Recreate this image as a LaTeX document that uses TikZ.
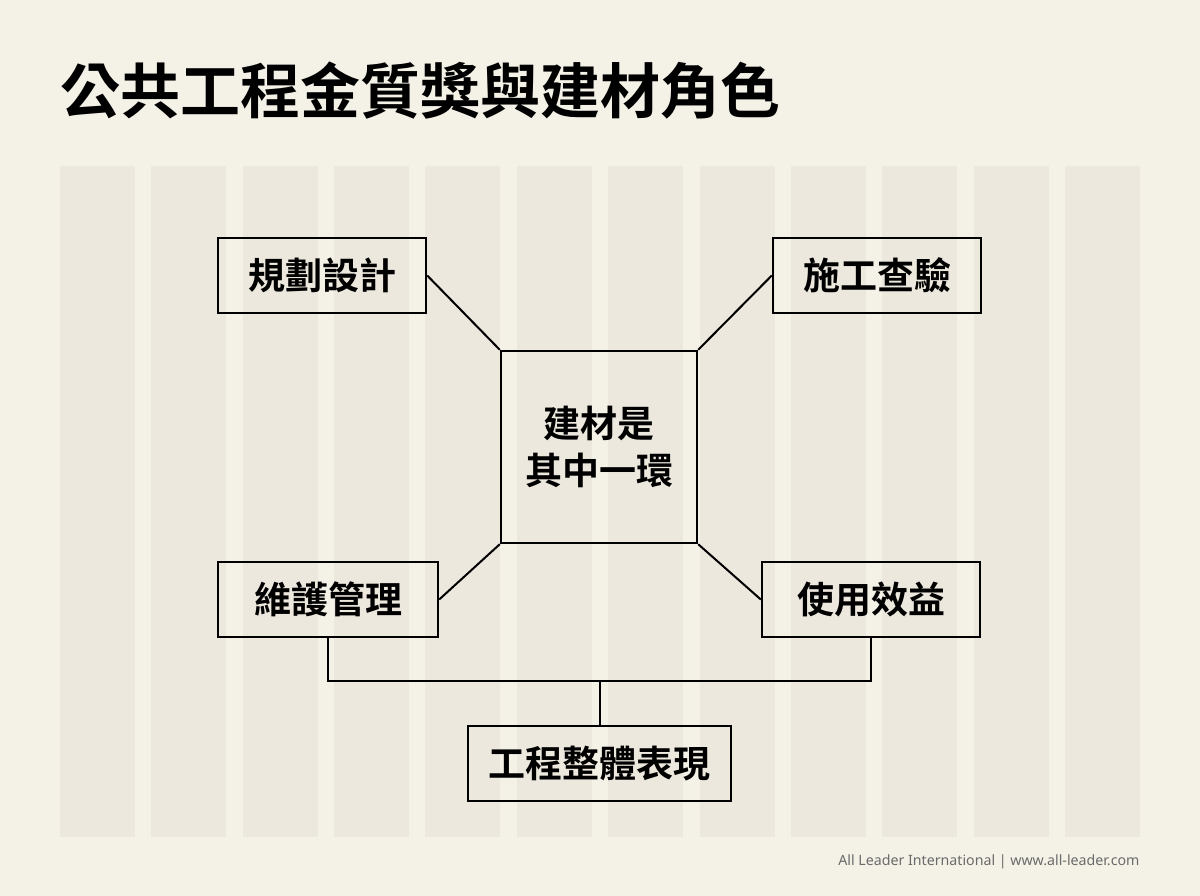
\documentclass[tikz,border=0pt]{standalone}
\usepackage{fontspec}
\newfontfamily\cjkb{Noto Sans CJK TC Bold}
\newfontfamily\footfont{Noto Sans}
\definecolor{bgc}{HTML}{F4F1E7}
\definecolor{stripec}{HTML}{EDE8DE}
\definecolor{footc}{HTML}{6A6A6A}
\begin{document}
\begin{tikzpicture}[x=1pt,y=-1pt,
  box/.style={draw=black,line width=2.4pt,inner sep=0pt,font=\cjkb\fontsize{37}{44}\selectfont},
  link/.style={draw=black,line width=2pt}]
\fill[bgc] (0,0) rectangle (1200,896);
\useasboundingbox (0,0) rectangle (1200,896);
\foreach \i in {0,...,11}{
  \fill[stripec] ({60+91.36*\i},166) rectangle ({135+91.36*\i},837);
}
\node[anchor=west,font=\cjkb\fontsize{60}{68}\selectfont] (title) at (57,91) {公共工程金質獎與建材角色};
\node[box,minimum width=208pt,minimum height=75pt] (plan) at (322,275.5) {規劃設計};
\node[box,minimum width=208pt,minimum height=75pt] (build) at (877,275.5) {施工查驗};
\node[box,minimum width=196pt,minimum height=192pt,align=center,font=\cjkb\fontsize{37}{47}\selectfont] (core) at (599,447) {建材是\\其中一環};
\node[box,minimum width=220pt,minimum height=75pt] (maint) at (328,599.5) {維護管理};
\node[box,minimum width=218pt,minimum height=75pt] (use) at (871,599.5) {使用效益};
\node[box,minimum width=263pt,minimum height=75pt] (perf) at (599.5,763.5) {工程整體表現};
\draw[link] (plan.east) -- (core.north west);
\draw[link] (build.west) -- (core.north east);
\draw[link] (maint.east) -- (core.south west);
\draw[link] (use.west) -- (core.south east);
\coordinate (jl) at (328,681);
\coordinate (jr) at (871,681);
\coordinate (jm) at (599.5,681);
\draw[link] (maint.south) -- (jl) -- (jr) -- (use.south);
\draw[link] (jm) -- (perf.north);
\node[anchor=east,font=\footfont\fontsize{14.2}{17}\selectfont,text=footc] (foot) at (1143,862) {All Leader International | www.all-leader.com};
\end{tikzpicture}
\end{document}
